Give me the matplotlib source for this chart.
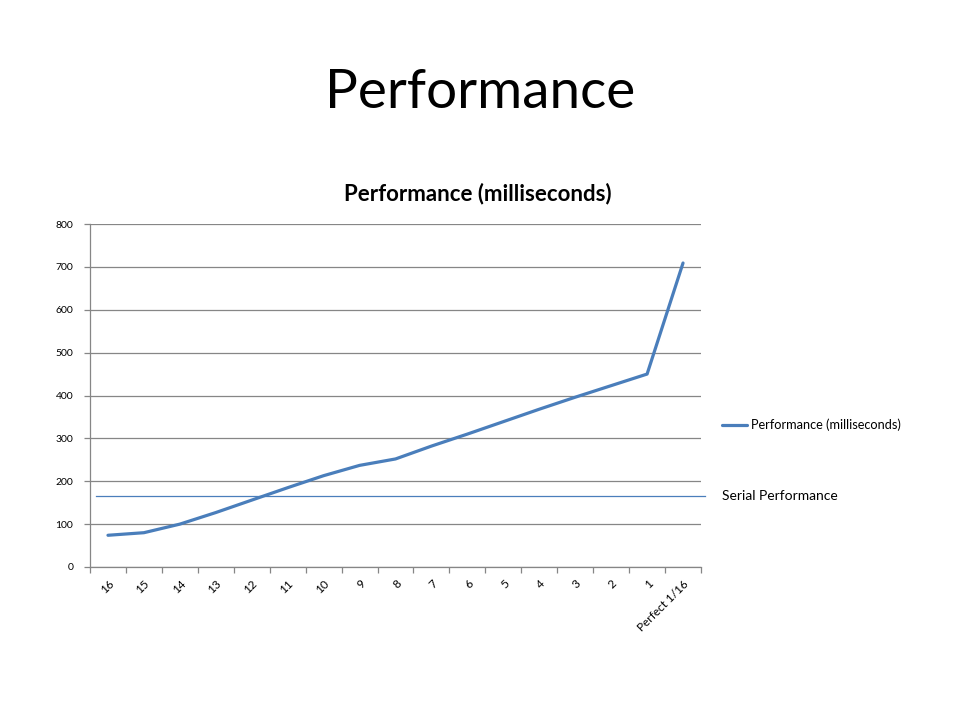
import matplotlib
matplotlib.use("Agg")
import matplotlib.pyplot as plt
import matplotlib.transforms as mtransforms

categories = ["16", "15", "14", "13", "12", "11", "10", "9", "8", "7", "6", "5", "4", "3", "2", "1", "Perfect 1/16"]
performance_ms = [74, 80, 100, 127, 156, 185, 213, 237, 252, 282, 310, 339, 368, 396, 423, 450, 709]
serial_performance = 165
y_ticks = [0, 100, 200, 300, 400, 500, 600, 700, 800]

plt.rcParams['font.family'] = ['Lato', 'DejaVu Sans']

fig = plt.figure(figsize=(9.6, 7.2), dpi=100)
fig.text(0.5, 0.872, "Performance", ha="center", va="center", fontsize=39.5, color="black")
fig.text(478/960, 1-194/720, "Performance (milliseconds)", ha="center", va="center",
         fontsize=16, fontweight="bold", color="black")

ax = fig.add_axes([90/960, 1-567/720, 611/960, 343/720])
x = list(range(len(categories)))
line, = ax.plot(x, performance_ms, color="#4A7EBB", linewidth=2.3, solid_capstyle="round",
                label="Performance (milliseconds)")

ax.set_xlim(-0.5, len(categories) - 0.5)
ax.set_ylim(0, 800)
ax.set_yticks(y_ticks)
ax.set_yticklabels([str(v) for v in y_ticks])
ax.yaxis.grid(True, color="#868686", linewidth=0.9)
ax.set_axisbelow(True)

ax.set_xticks(x)
ax.set_xticklabels(categories, rotation=45, ha="right", rotation_mode="anchor")
ax.set_xticks([i - 0.5 for i in range(len(categories) + 1)], minor=True)
ax.tick_params(axis="x", which="major", length=0, pad=8, labelsize=8.5, colors="black")
ax.tick_params(axis="x", which="minor", length=4, color="#868686", width=0.9)
ax.tick_params(axis="y", which="major", length=4, color="#868686", width=0.9, labelsize=7.5, pad=8)

for s in ["top", "right"]:
    ax.spines[s].set_visible(False)
for s in ["left", "bottom"]:
    ax.spines[s].set_color("#868686")
    ax.spines[s].set_linewidth(0.9)

# Serial performance reference line
ax.axhline(serial_performance, xmin=0.01, xmax=1.007, color="#4A7EBB", linewidth=0.9, clip_on=False)
trans = mtransforms.blended_transform_factory(ax.transAxes, ax.transData)
ax.text(1.034, serial_performance, "Serial Performance", transform=trans, ha="left", va="center",
        fontsize=10, color="black")

ax.legend(handles=[line], loc="center left", bbox_to_anchor=(1.034, 0.414), frameon=False,
          fontsize=9.2, handlelength=2.0, handletextpad=0.3, borderpad=0, borderaxespad=0)

fig.savefig("out.png", dpi=100)
